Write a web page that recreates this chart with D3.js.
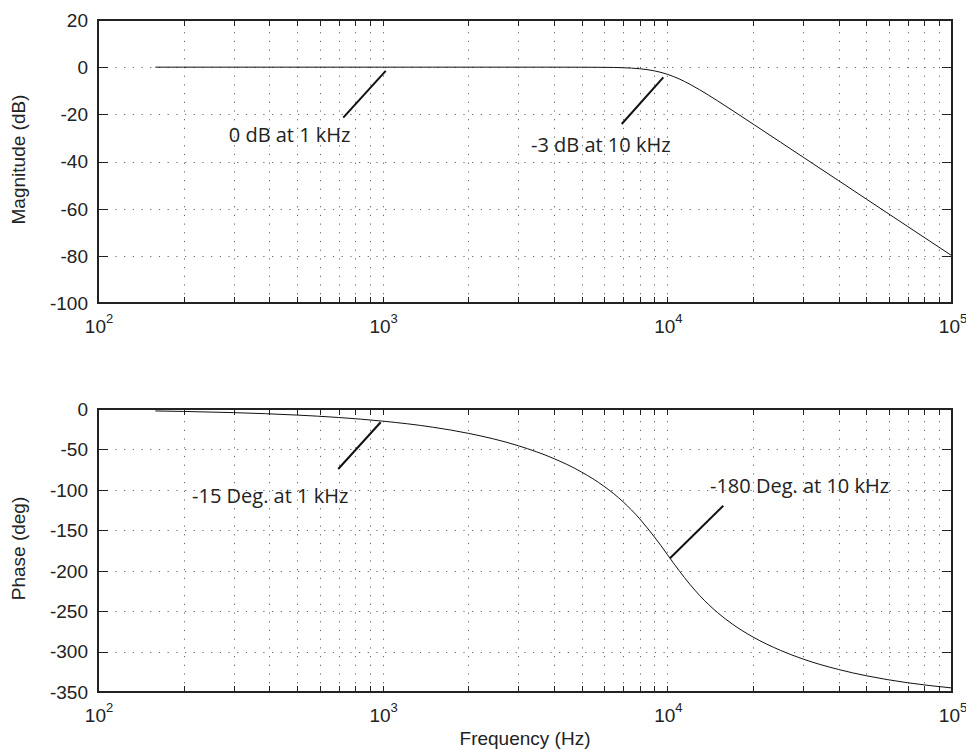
<!DOCTYPE html>
<html>
<head>
<meta charset="utf-8">
<script src="https://cdn.jsdelivr.net/npm/d3@7"></script>
<style>
  body { margin: 0; background: #fff; }
  svg { display: block; }
  .tick-label { font-family: "Liberation Sans", Arial, sans-serif; font-size: 19px; fill: #222; }
  .axis-title { font-family: "Liberation Sans", Arial, sans-serif; font-size: 19px; fill: #222; }
  .note { font-family: "Open Sans", sans-serif; font-size: 20px; fill: #222; }
</style>
</head>
<body>
<div id="chart"></div>
<script>
// frequency samples (Hz)
const freqHz = [159, 200, 300, 500, 700, 1000, 1500, 2000, 3000, 4000, 5000, 6000, 7000, 8000, 9000,
  9500, 10000, 11000, 12000, 13000, 15000, 17000, 20000, 25000, 30000, 40000, 50000, 70000, 100000];
const magnitudeDb = [0, 0, 0, 0, 0, 0, 0, 0, 0, 0, -0.02, -0.07, -0.24, -0.67, -1.56,
  -2.21, -3.01, -4.97, -7.24, -9.62, -14.25, -18.5, -24.1, -31.84, -38.17, -48.16, -55.92, -67.61, -80];
const phaseDeg = [-2.4, -3, -4.5, -7.5, -10.5, -15, -22.5, -30.1, -45.5, -61.4, -78, -95.7, -114.9, -135.9, -158.1,
  -169, -180, -199.9, -216.8, -230.8, -251.7, -266.5, -282, -298.6, -309.3, -322.2, -329.9, -338.6, -345];

const xDecades = [100, 1000, 10000, 100000];
const magTicks = [20, 0, -20, -40, -60, -80, -100];
const phaseTicks = [0, -50, -100, -150, -200, -250, -300, -350];

// annotations: leader line from (f1,v1) to (f2,v2), text at (ft,vt)
const magNotes = [
  { text: "0 dB at 1 kHz", f1: 1025, v1: -1.6, f2: 727, v2: -21.4, ft: 288, vt: -31.7 },
  { text: "-3 dB at 10 kHz", f1: 9680, v1: -4.3, f2: 6915, v2: -24.1, ft: 3320, vt: -36 }
];
const phaseNotes = [
  { text: "-15 Deg. at 1 kHz", f1: 984, v1: -16.4, f2: 698, v2: -74.2, ft: 214, vt: -116.3 },
  { text: "-180 Deg. at 10 kHz", f1: 15725, v1: -119.6, f2: 10218, v2: -184.6, ft: 14120, vt: -103.9 }
];

const width = 966, height = 749;
const left = 98, right = 952;

const svg = d3.select("#chart").append("svg")
  .attr("width", width)
  .attr("height", height);

const x = d3.scaleLog().domain([100, 100000]).range([left, right]);

// minor tick positions 2..9 in each decade
const minorTicks = [];
xDecades.slice(0, -1).forEach(d => {
  for (let k = 2; k <= 9; k++) minorTicks.push(d * k);
});

function drawPanel(top, bottom, domain, yTicks, values, notes, yTitle) {
  const y = d3.scaleLinear().domain(domain).range([bottom, top]);
  const g = svg.append("g");

  // grid
  const grid = g.append("g")
    .attr("stroke", "#666")
    .attr("stroke-width", 1)
    .attr("stroke-dasharray", "1.2,7.5");
  grid.selectAll("line.vx")
    .data(minorTicks.concat(xDecades.slice(1, -1)))
    .join("line")
    .attr("x1", d => Math.round(x(d)) + 0.5)
    .attr("x2", d => Math.round(x(d)) + 0.5)
    .attr("y1", bottom)
    .attr("y2", top);
  grid.selectAll("line.hy")
    .data(yTicks.slice(1, -1))
    .join("line")
    .attr("x1", left)
    .attr("x2", right)
    .attr("y1", d => Math.round(y(d)) + 0.5)
    .attr("y2", d => Math.round(y(d)) + 0.5);

  // ticks (inside)
  const ticks = g.append("g").attr("stroke", "#222").attr("stroke-width", 1);
  minorTicks.concat(xDecades).forEach(d => {
    const px = Math.round(x(d)) + 0.5;
    ticks.append("line").attr("x1", px).attr("x2", px).attr("y1", bottom).attr("y2", bottom - 6);
    ticks.append("line").attr("x1", px).attr("x2", px).attr("y1", top).attr("y2", top + 6);
  });
  yTicks.forEach(d => {
    const py = Math.round(y(d)) + 0.5;
    ticks.append("line").attr("x1", left).attr("x2", left + 10).attr("y1", py).attr("y2", py);
    ticks.append("line").attr("x1", right).attr("x2", right - 10).attr("y1", py).attr("y2", py);
  });

  // curve
  const line = d3.line()
    .x((d, i) => x(freqHz[i]))
    .y(d => y(d))
    .curve(d3.curveMonotoneX);
  g.append("path")
    .datum(values)
    .attr("fill", "none")
    .attr("stroke", "#111")
    .attr("stroke-width", 1)
    .attr("d", line);

  // frame
  g.append("rect")
    .attr("x", left)
    .attr("y", top)
    .attr("width", right - left)
    .attr("height", bottom - top)
    .attr("fill", "none")
    .attr("stroke", "#222")
    .attr("stroke-width", 2);

  // y tick labels
  g.selectAll("text.yl")
    .data(yTicks)
    .join("text")
    .attr("class", "tick-label")
    .attr("x", left - 10)
    .attr("y", d => y(d))
    .attr("dy", "0.36em")
    .attr("text-anchor", "end")
    .text(d => d);

  // x tick labels 10^n
  xDecades.forEach(d => {
    const t = g.append("text")
      .attr("class", "tick-label")
      .attr("x", x(d) + 1)
      .attr("y", bottom + 30)
      .attr("text-anchor", "middle");
    t.append("tspan").text("10");
    t.append("tspan")
      .attr("dy", -10)
      .style("font-size", "13px")
      .text(Math.round(Math.log10(d)));
  });

  // y title
  g.append("text")
    .attr("class", "axis-title")
    .attr("transform", `translate(25,${(top + bottom) / 2 - 2}) rotate(-90)`)
    .attr("text-anchor", "middle")
    .text(yTitle);

  // annotations
  notes.forEach(n => {
    g.append("line")
      .attr("x1", x(n.f1)).attr("y1", y(n.v1))
      .attr("x2", x(n.f2)).attr("y2", y(n.v2))
      .attr("stroke", "#111")
      .attr("stroke-width", 2);
    g.append("text")
      .attr("class", "note")
      .attr("x", x(n.ft))
      .attr("y", y(n.vt))
      .text(n.text);
  });
}

drawPanel(20, 303, [-100, 20], magTicks, magnitudeDb, magNotes, "Magnitude (dB)");
drawPanel(409, 692, [-350, 0], phaseTicks, phaseDeg, phaseNotes, "Phase (deg)");

svg.append("text")
  .attr("class", "axis-title")
  .attr("x", (left + right) / 2)
  .attr("y", 745)
  .attr("text-anchor", "middle")
  .text("Frequency (Hz)");
</script>
</body>
</html>
